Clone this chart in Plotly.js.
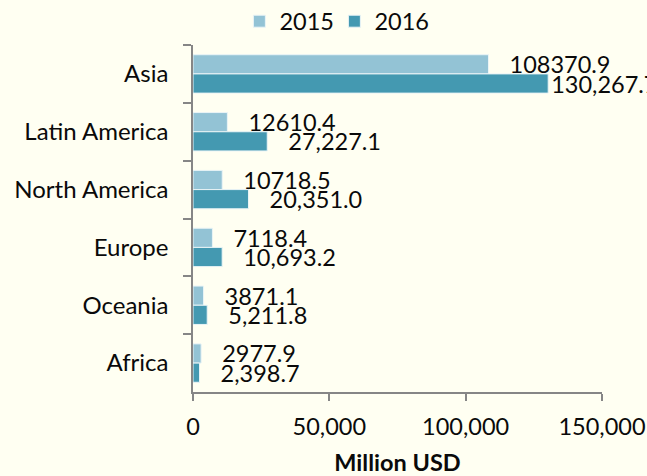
<!DOCTYPE html>
<html>
<head>
<meta charset="utf-8">
<script src="https://cdn.plot.ly/plotly-3.0.1.min.js"></script>
<style>html,body{margin:0;padding:0;background:#FFFFF2;}#chart{width:647px;height:476px;}</style>
</head>
<body>
<div id="chart"></div>
<script>
var regions = ["Asia", "Latin America", "North America", "Europe", "Oceania", "Africa"];
var values2015 = [108370.9, 12610.4, 10718.5, 7118.4, 3871.1, 2977.9];
var values2016 = [130267.7, 27227.1, 20351.0, 10693.2, 5211.8, 2398.7];
var seriesNames = ["2015", "2016"];
var xTicks = [0, 50000, 100000, 150000];

function pad(v) { return v > 120000 ? "" : "   "; }
var text2015 = values2015.map(function (v) { return pad(v) + v.toFixed(1); });
var text2016 = values2016.map(function (v) {
  return pad(v) + v.toLocaleString("en-US", {minimumFractionDigits: 1, maximumFractionDigits: 1});
});

var FONT = "Lato, 'Open Sans', sans-serif";
var labelFont = {family: FONT, size: 23.5, color: "#0a0a0a"};

var traces = [
  {type: "bar", orientation: "h", name: seriesNames[0], y: regions, x: values2015,
   text: text2015, textposition: "outside", constraintext: "none", cliponaxis: false,
   textfont: labelFont, hoverinfo: "x+y",
   marker: {color: "#93C3D5", line: {color: "#EAF4F6", width: 1}}},
  {type: "bar", orientation: "h", name: seriesNames[1], y: regions, x: values2016,
   text: text2016, textposition: "outside", constraintext: "none", cliponaxis: false,
   textfont: labelFont, hoverinfo: "x+y",
   marker: {color: "#4499B1", line: {color: "#EAF4F6", width: 1}}}
];

var layout = {
  width: 647, height: 476,
  paper_bgcolor: "#FFFFF2", plot_bgcolor: "#FFFFF2",
  margin: {l: 193, r: 45, t: 45, b: 84, pad: 0},
  font: {family: FONT, size: 23.5, color: "#0a0a0a"},
  barmode: "group", bargap: 0.336, bargroupgap: 0,
  showlegend: true,
  legend: {orientation: "h", xref: "container", x: 0.37, xanchor: "left",
           yref: "container", y: 0.955, yanchor: "middle",
           font: {family: FONT, size: 23.5, color: "#0a0a0a"}, bgcolor: "rgba(0,0,0,0)",
           traceorder: "normal", entrywidth: 50, entrywidthmode: "pixels"},
  xaxis: {range: [0, 150000], tickvals: xTicks, tickformat: ",d",
          showline: true, linecolor: "#868686", linewidth: 1.5,
          ticks: "outside", ticklen: 7, tickcolor: "#868686", tickwidth: 1.5,
          showgrid: false, zeroline: false, ticklabelstandoff: 6,
          tickfont: {family: FONT, size: 23.5, color: "#0a0a0a"},
          title: {text: "<b>Million USD</b>", font: {family: FONT, size: 23.5, color: "#0a0a0a"}, standoff: 35}},
  yaxis: {type: "category", categoryorder: "array", categoryarray: regions, autorange: "reversed",
          showline: true, linecolor: "#868686", linewidth: 1.5,
          ticks: "outside", ticklen: 8, tickcolor: "#868686", tickwidth: 1.5, tickson: "boundaries",
          showgrid: false, zeroline: false, ticklabelstandoff: 18,
          tickfont: {family: FONT, size: 24, color: "#0a0a0a"}}
};

Plotly.newPlot("chart", traces, layout, {displayModeBar: false, responsive: false});
</script>
</body>
</html>
